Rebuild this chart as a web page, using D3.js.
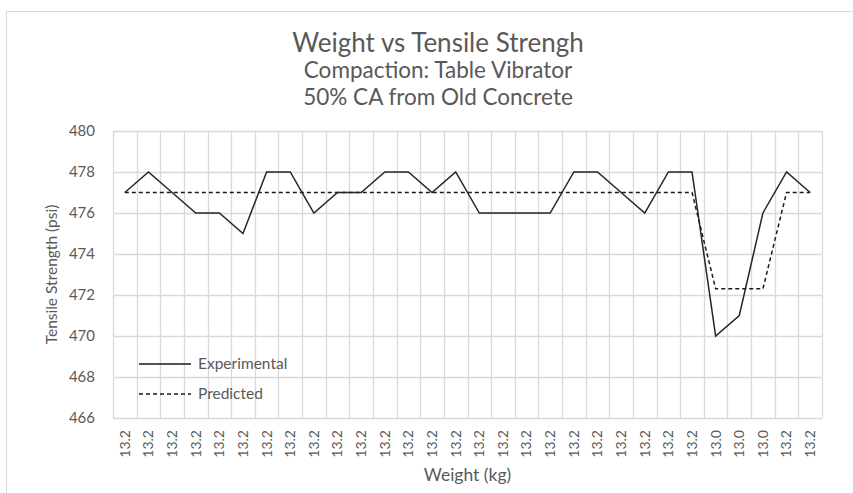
<!DOCTYPE html>
<html>
<head>
<meta charset="utf-8">
<script src="https://cdn.jsdelivr.net/npm/d3@7"></script>
<style>
  body { margin: 0; background: #fff; }
  text { font-family: Lato, "Open Sans", sans-serif; fill: #595959; }
</style>
</head>
<body>
<div id="chart"></div>
<script>
    // data
    const weights = ["13.2","13.2","13.2","13.2","13.2","13.2","13.2","13.2","13.2","13.2",
                     "13.2","13.2","13.2","13.2","13.2","13.2","13.2","13.2","13.2","13.2",
                     "13.2","13.2","13.2","13.2","13.2","13.0","13.0","13.0","13.2","13.2"];
    const experimental = [477,478,477,476,476,475,478,478,476,477,
                          477,478,478,477,478,476,476,476,476,478,
                          478,477,476,478,478,470,471,476,478,477];
    const predicted = [477,477,477,477,477,477,477,477,477,477,
                       477,477,477,477,477,477,477,477,477,477,
                       477,477,477,477,477,472.3,472.3,472.3,477,477];
    const yTicks = [466,468,470,472,474,476,478,480];
    const titles = ["Weight vs Tensile Strengh", "Compaction: Table Vibrator", "50% CA from Old Concrete"];

    let width = 853, height = 493;
    var margin = {top: 131, right: 31, bottom: 75, left: 113};
    let plotW = width - margin.left - margin.right,
        plotH = height - margin.top - margin.bottom;

    var svg = d3.select("#chart").append("svg")
        .attr("width", width)
        .attr("height", height);

    // chart frame
    svg.append("rect")
        .attr("x", 6.5).attr("y", 11.5)
        .attr("width", width + 10).attr("height", height)
        .attr("fill", "none")
        .attr("stroke", "#d9d9d9");

    // titles
    svg.selectAll(".title")
        .data(titles)
        .join("text")
        .attr("class", "title")
        .attr("x", 438)
        .attr("y", (d, i) => [52, 78, 105][i])
        .attr("text-anchor", "middle")
        .style("font-size", (d, i) => i == 0 ? "26px" : "22.5px")
        .text(d => d);

    var g = svg.append("g")
        .attr("transform", "translate(" + margin.left + "," + margin.top + ")");

    var x = d3.scaleBand()
        .domain(d3.range(weights.length))
        .range([0, plotW]);

    var y = d3.scaleLinear()
        .domain([466, 480])
        .range([plotH, 0]);

    // horizontal gridlines
    g.append("g").selectAll("line")
        .data(yTicks)
        .join("line")
        .attr("x1", 0).attr("x2", plotW)
        .attr("y1", d => Math.round(y(d)) + 0.5).attr("y2", d => Math.round(y(d)) + 0.5)
        .attr("stroke", "#d9d9d9").attr("stroke-width", 1.3);

    // vertical gridlines between categories
    g.append("g").selectAll("line")
        .data(d3.range(weights.length + 1))
        .join("line")
        .attr("x1", d => Math.round(d * x.step()) + 0.5)
        .attr("x2", d => Math.round(d * x.step()) + 0.5)
        .attr("y1", 0).attr("y2", plotH)
        .attr("stroke", "#d9d9d9").attr("stroke-width", 1.3);

    // y axis labels
    var yAxis = g.append("g")
        .call(d3.axisLeft(y).tickValues(yTicks).tickSize(0).tickPadding(18));
    yAxis.select(".domain").remove();
    yAxis.selectAll("text")
        .style("font-size", "15px")
        .style("font-family", "Lato, 'Open Sans', sans-serif")
        .attr("fill", "#595959");

    // x axis labels
    var xAxis = g.append("g")
        .attr("transform", "translate(0," + plotH + ")")
        .call(d3.axisBottom(x).tickFormat(i => weights[i]).tickSize(0));
    xAxis.select(".domain").remove();
    xAxis.selectAll("text")
        .style("font-size", "14px")
        .style("font-family", "Lato, 'Open Sans', sans-serif")
        .attr("fill", "#595959")
        .attr("transform", "rotate(-90)")
        .attr("text-anchor", "end")
        .attr("x", -12)
        .attr("y", 0)
        .attr("dy", "0.35em");

    // axis titles
    svg.append("text")
        .attr("transform", "translate(57," + (margin.top + plotH/2) + ") rotate(-90)")
        .attr("text-anchor", "middle").style("font-size", "15.5px")
        .text("Tensile Strength (psi)");
    svg.append("text")
        .attr("x", margin.left + plotW/2).attr("y", 481)
        .attr("text-anchor", "middle").style("font-size", "17.5px")
        .text("Weight (kg)");

    // lines
    var line = d3.line()
        .x((d, i) => x(i) + x.bandwidth()/2)
        .y(d => y(d));

    g.append("path")
        .datum(predicted)
        .attr("d", line)
        .attr("fill", "none")
        .attr("stroke", "#1a1a1a")
        .attr("stroke-width", 1.5)
        .attr("stroke-dasharray", "4,3");

    g.append("path")
        .datum(experimental)
        .attr("d", line)
        .attr("fill", "none")
        .attr("stroke", "#262626")
        .attr("stroke-width", 1.5);

    // legend
    var legend = [{name: "Experimental", dash: null}, {name: "Predicted", dash: "4,3"}];
    var lg = svg.append("g").selectAll("g")
        .data(legend)
        .join("g")
        .attr("transform", (d, i) => "translate(139," + (364 + i * 30) + ")");
    lg.append("line")
        .attr("x1", 0).attr("x2", 52)
        .attr("stroke", "#1a1a1a").attr("stroke-width", 1.5)
        .attr("stroke-dasharray", d => d.dash);
    lg.append("text")
        .attr("x", 59).attr("dy", "0.35em")
        .style("font-size", "15.5px")
        .text(d => d.name);
</script>
</body>
</html>
